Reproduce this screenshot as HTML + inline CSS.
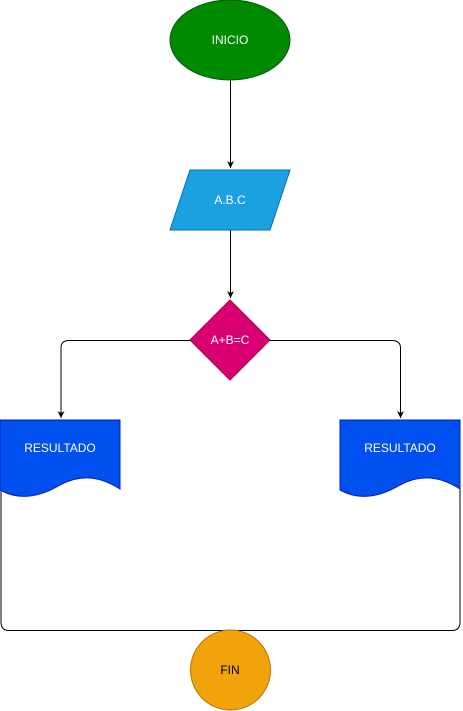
<!DOCTYPE html>
<html><head><style>body{margin:0;background:#fff}svg{display:block}</style></head><body>
<svg width="463" height="711" viewBox="0 0 463 711" xmlns="http://www.w3.org/2000/svg" font-family="Liberation Sans, sans-serif" font-size="12">
<defs><marker id="a" markerWidth="8" markerHeight="8" refX="7" refY="4" orient="auto" markerUnits="userSpaceOnUse"><path d="M0,0.5 L7,4 L0,7.5 L2,4 Z" fill="#000"/></marker></defs>
<g fill="none" stroke="#000" stroke-width="1">
<path d="M230.5,80 V168" marker-end="url(#a)"/>
<path d="M230.5,230 V298" marker-end="url(#a)"/>
<path d="M190,340.5 H69 Q61,340.5 61,348 V418" marker-end="url(#a)"/>
<path d="M270,340.5 H392 Q400.5,340.5 400.5,348 V418" marker-end="url(#a)"/>
<path d="M1,490 V622 Q1,630.5 9,630.5 H452 Q460,630.5 460,622 V488"/>
</g>
<ellipse cx="230" cy="40" rx="60" ry="40" fill="#008a00" stroke="#005700"/>
<text x="230" y="44" fill="#fff" text-anchor="middle">INICIO</text>
<path d="M190,170 H290 L270,230 H170 Z" fill="#1ba1e2" stroke="#006eaf"/>
<text x="230" y="204" fill="#fff" text-anchor="middle">A.B.C</text>
<path d="M230,300 L270,340 L230,380 L190,340 Z" fill="#d80073" stroke="#a50040"/>
<text x="230" y="344" fill="#fff" text-anchor="middle">A+B=C</text>
<path d="M0,420 H120 V489 C100,476 80,474 60,485 C40,497 20,501 0,490 Z" fill="#0050ef" stroke="#001dbc"/>
<text x="60" y="452" fill="#fff" text-anchor="middle">RESULTADO</text>
<path d="M340,420 H460 V489 C440,476 420,474 400,485 C380,497 360,501 340,490 Z" fill="#0050ef" stroke="#001dbc"/>
<text x="400" y="452" fill="#fff" text-anchor="middle">RESULTADO</text>
<circle cx="230.5" cy="670" r="40" fill="#f0a30a" stroke="#bd7000"/>
<text x="230" y="674" fill="#000" text-anchor="middle">FIN</text>
</svg>
</body></html>
